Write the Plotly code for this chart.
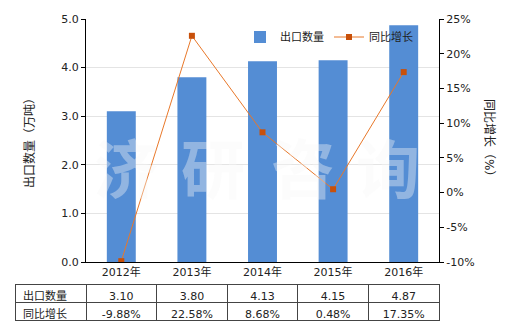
import plotly.graph_objects as go

years = ["2012年", "2013年", "2014年", "2015年", "2016年"]
export_qty = [3.10, 3.80, 4.13, 4.15, 4.87]
yoy_growth = [-9.88, 22.58, 8.68, 0.48, 17.35]
qty_labels = ["3.10", "3.80", "4.13", "4.15", "4.87"]
growth_labels = ["-9.88%", "22.58%", "8.68%", "0.48%", "17.35%"]
series_names = ["出口数量", "同比增长"]
right_tick_vals = [-10, -5, 0, 5, 10, 15, 20, 25]
right_tick_text = ["-10%", "-5%", "0%", "5%", "10%", "15%", "20%", "25%"]
watermark_chars = ["济", "研", "咨", "询"]

FONT = "DejaVu Sans, Noto Sans CJK SC, sans-serif"
W, H = 520, 330
L, R, T, B = 15, 81, 19, 9
pw = W - L - R
ph = H - T - B
x0 = (86 - L) / pw
y0 = (321 - 262) / ph


def px_x(x):
    return (x - L) / pw


def px_y(y):
    return (H - B - y) / ph


fig = go.Figure()
fig.add_trace(go.Bar(x=years, y=export_qty, name=series_names[0],
                     marker=dict(color="#548dd4", line=dict(width=0)),
                     width=0.41, xaxis="x", yaxis="y"))
fig.add_trace(go.Scatter(x=years, y=yoy_growth, name=series_names[1],
                         mode="lines+markers",
                         line=dict(color="#e8782a", width=1),
                         marker=dict(symbol="square", size=6, color="#c8500a"),
                         xaxis="x", yaxis="y2"))

fig.add_trace(go.Table(
    domain=dict(x=[0, 1], y=[0, (321 - 284) / ph]),
    columnwidth=[71] + [70.6] * 5,
    header=dict(values=[series_names[0]] + qty_labels, height=18,
                align=["left"] + ["center"] * 5,
                line=dict(color="#444444", width=1),
                fill=dict(color="white"),
                font=dict(family=FONT, size=11, color="#222222")),
    cells=dict(values=[[series_names[1]]] + [[g] for g in growth_labels], height=18,
               align=["left"] + ["center"] * 5,
               line=dict(color="#444444", width=1),
               fill=dict(color="white"),
               font=dict(family=FONT, size=11, color="#222222")),
))

wm_x = [126, 213, 303, 388]
annotations = [
    dict(text="出口数量（万吨）", textangle=-90, x=px_x(29), y=px_y(140),
         xref="paper", yref="paper", showarrow=False,
         xanchor="center", yanchor="middle",
         font=dict(family=FONT, size=12, color="#222222")),
    dict(text="同比增长（%）", textangle=90, x=px_x(489), y=px_y(140),
         xref="paper", yref="paper", showarrow=False,
         xanchor="center", yanchor="middle",
         font=dict(family=FONT, size=12, color="#222222")),
]
for ch, xp in zip(watermark_chars, wm_x):
    annotations.append(dict(text="<b>" + ch + "</b>", x=px_x(xp), y=px_y(165),
                            xref="paper", yref="paper", showarrow=False,
                            xanchor="center", yanchor="middle",
                            font=dict(family="Noto Sans CJK SC", size=64,
                                      color="rgba(248,248,248,0.38)")))

fig.update_layout(
    width=W, height=H,
    margin=dict(l=L, r=R, t=T, b=B, pad=0, autoexpand=False),
    paper_bgcolor="white", plot_bgcolor="white",
    font=dict(family=FONT, size=11, color="#222222"),
    bargap=0.5,
    showlegend=True,
    legend=dict(orientation="h", x=px_x(240), y=px_y(37),
                xanchor="left", yanchor="middle", bgcolor="rgba(0,0,0,0)",
                font=dict(family=FONT, size=11, color="#222222"),
                itemwidth=30),
    xaxis=dict(domain=[x0, 1], showline=True, linecolor="#000000", linewidth=1,
               ticks="", tickfont=dict(size=11), anchor="y", automargin=False),
    yaxis=dict(domain=[y0, 1], range=[0, 5], dtick=1, tickformat=".1f",
               showline=True, linecolor="#000000", linewidth=1,
               ticks="outside", ticklen=4, tickcolor="#000000",
               showgrid=True, gridcolor="#e4e4e4", zeroline=False,
               anchor="x", automargin=False),
    yaxis2=dict(domain=[y0, 1], range=[-10, 25],
                tickmode="array", tickvals=right_tick_vals, ticktext=right_tick_text,
                overlaying="y", side="right", anchor="x",
                showline=True, linecolor="#000000", linewidth=1,
                ticks="outside", ticklen=4, tickcolor="#000000",
                showgrid=False, zeroline=False, automargin=False),
    annotations=annotations,
)

fig.write_html("out.html")
